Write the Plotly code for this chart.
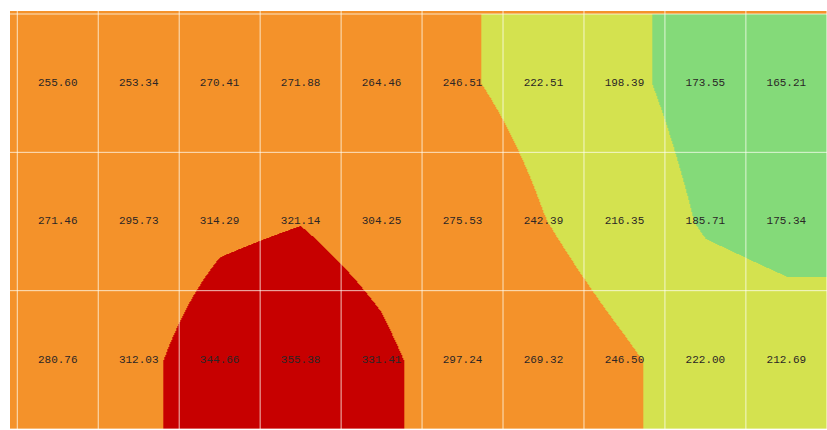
import plotly.graph_objects as go

# Grid of measured values (3 rows x 10 columns), top row first
row_1 = [255.60, 253.34, 270.41, 271.88, 264.46, 246.51, 222.51, 198.39, 173.55, 165.21]
row_2 = [271.46, 295.73, 314.29, 321.14, 304.25, 275.53, 242.39, 216.35, 185.71, 175.34]
row_3 = [280.76, 312.03, 344.66, 355.38, 331.41, 297.24, 269.32, 246.50, 222.00, 212.69]
values = [row_1, row_2, row_3]

# Class breaks and their fill colours
z_min, z_max = 150.0, 370.0
breaks = [190.0, 241.0, 322.0]
band_colors = ["#84DA79", "#D4E24F", "#F4922A", "#C70000"]

n_rows = len(values)
n_cols = len(values[0])
cols = list(range(n_cols))
rows = list(range(n_rows))

# Stepwise colour scale built from the breaks
edges = [0.0] + [(b - z_min) / (z_max - z_min) for b in breaks] + [1.0]
colorscale = []
for i, c in enumerate(band_colors):
    colorscale.append([edges[i], c])
    colorscale.append([edges[i + 1], c])

fig = go.Figure()

fig.add_trace(go.Heatmap(
    z=values,
    x=cols,
    y=rows,
    zmin=z_min,
    zmax=z_max,
    zsmooth="best",
    colorscale=colorscale,
    showscale=False,
    hoverinfo="skip",
))

# Value labels at the cell centres
label_x, label_y, label_text = [], [], []
for r in rows:
    for c in cols:
        label_x.append(c)
        label_y.append(r)
        label_text.append(f"{values[r][c]:.2f}")

fig.add_trace(go.Scatter(
    x=label_x,
    y=label_y,
    mode="text",
    text=label_text,
    textposition="middle center",
    textfont=dict(family="Liberation Mono, Courier New, monospace", size=11, color="#2b2626"),
    hoverinfo="skip",
    showlegend=False,
))

# Cell boundary lines drawn on top of the colour field
grid_line = dict(color="rgba(255,255,245,0.75)", width=1)
shapes = []
for k in range(n_cols + 1):
    shapes.append(dict(type="line", xref="x", yref="paper", x0=k - 0.5, x1=k - 0.5,
                       y0=0, y1=1, line=grid_line, layer="above"))
for k in range(n_rows + 1):
    shapes.append(dict(type="line", xref="paper", yref="y", x0=0, x1=1,
                       y0=k - 0.5, y1=k - 0.5, line=grid_line, layer="above"))

fig.update_layout(
    width=827,
    height=430,
    margin=dict(l=10, r=0, t=11, b=1),
    paper_bgcolor="white",
    plot_bgcolor="#F4922A",
    showlegend=False,
    shapes=shapes,
    xaxis=dict(range=[-0.59, n_cols - 0.5 + 0.002], visible=False, fixedrange=True),
    yaxis=dict(range=[n_rows - 0.5, -0.5217], visible=False, fixedrange=True),
)

fig.write_html("out.html")
